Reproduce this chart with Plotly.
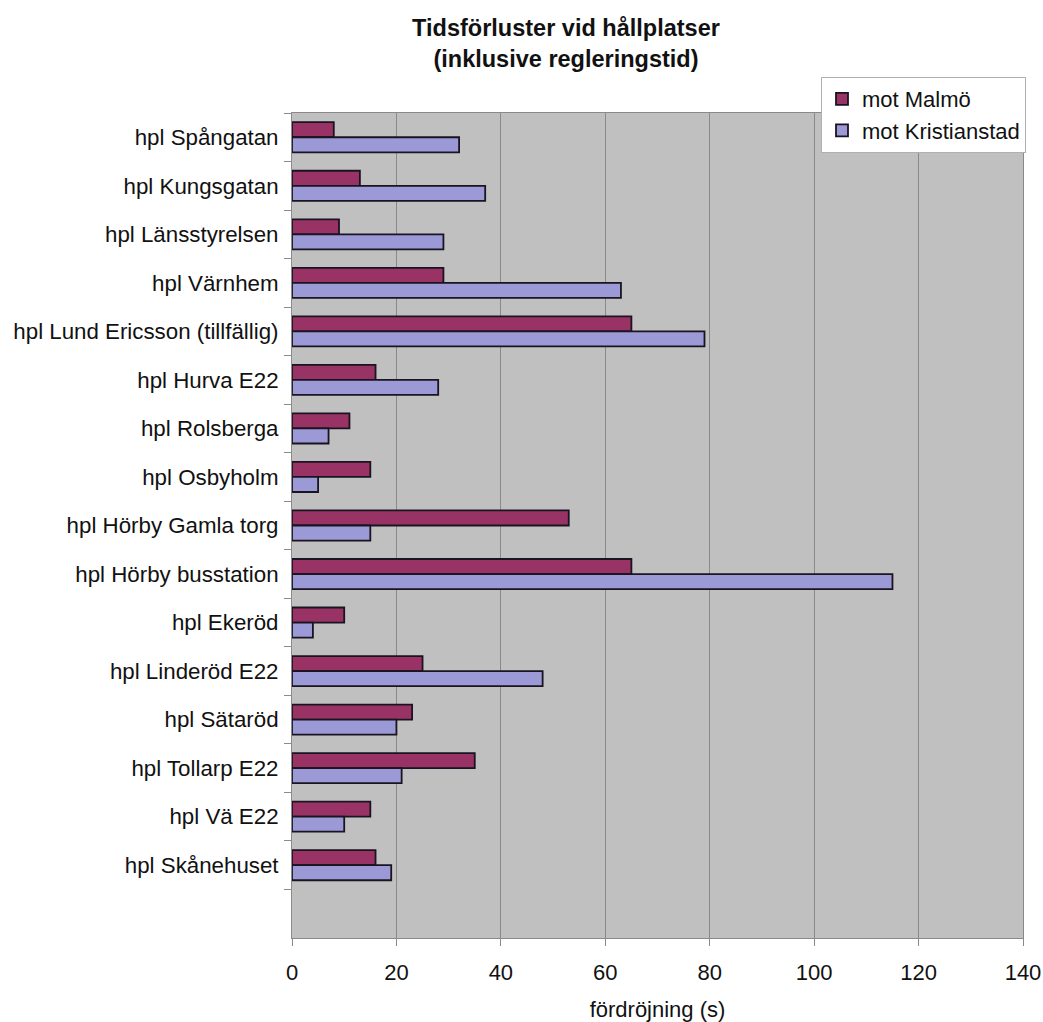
import plotly.graph_objects as go

# Stops along the line, top to bottom
stations = [
    "hpl Spångatan",
    "hpl Kungsgatan",
    "hpl Länsstyrelsen",
    "hpl Värnhem",
    "hpl Lund Ericsson (tillfällig)",
    "hpl Hurva E22",
    "hpl Rolsberga",
    "hpl Osbyholm",
    "hpl Hörby Gamla torg",
    "hpl Hörby busstation",
    "hpl Ekeröd",
    "hpl Linderöd E22",
    "hpl Sätaröd",
    "hpl Tollarp E22",
    "hpl Vä E22",
    "hpl Skånehuset",
]

# Delay per stop in seconds, by direction
mot_malmo = [8, 13, 9, 29, 65, 16, 11, 15, 53, 65, 10, 25, 23, 35, 15, 16]
mot_kristianstad = [32, 37, 29, 63, 79, 28, 7, 5, 15, 115, 4, 48, 20, 21, 10, 19]

x_ticks = [0, 20, 40, 60, 80, 100, 120, 140]

FONT = "Liberation Sans, Arial, sans-serif"
INK = "#111111"
AXIS_GREY = "#8a8a8a"

fig = go.Figure()
fig.add_trace(go.Bar(
    y=stations, x=mot_malmo, orientation="h", name="mot Malmö",
    marker=dict(color="#993366", line=dict(color="#1a1420", width=1.8)),
))
fig.add_trace(go.Bar(
    y=stations, x=mot_kristianstad, orientation="h", name="mot Kristianstad",
    marker=dict(color="#9b99d6", line=dict(color="#1a1420", width=1.8)),
))

# one empty slot below the last stop
categories = stations + [" "]

fig.update_layout(
    width=1043, height=1022,
    margin=dict(l=292, r=20, t=113, b=84),
    paper_bgcolor="white",
    plot_bgcolor="#c0c0c0",
    barmode="group",
    bargap=0.38,
    bargroupgap=0,
    font=dict(family=FONT, size=22, color=INK),
    title=dict(
        text="<b>Tidsförluster vid hållplatser<br>(inklusive regleringstid)</b>",
        x=566 / 1043, xanchor="center",
        y=1 - 36 / 1022, yanchor="top",
        font=dict(family=FONT, size=23.5, color=INK),
    ),
    legend=dict(
        x=(821 - 292) / 731, xanchor="left",
        y=1 + (113 - 77) / 825, yanchor="top",
        bgcolor="white", bordercolor="#b0b0b0", borderwidth=1,
        font=dict(family=FONT, size=22, color=INK),
        itemwidth=30,
        tracegroupgap=0,
    ),
    xaxis=dict(
        range=[0, 140], tickvals=x_ticks,
        automargin=False,
        showgrid=True, gridcolor=AXIS_GREY, gridwidth=1,
        showline=True, linecolor=AXIS_GREY, linewidth=1, mirror=True,
        ticks="outside", ticklen=7, tickcolor=AXIS_GREY,
        ticklabelstandoff=8,
        tickfont=dict(family=FONT, size=22, color=INK),
        zeroline=False,
        title=dict(text="fördröjning (s)", standoff=22,
                   font=dict(family=FONT, size=22, color=INK)),
    ),
    yaxis=dict(
        type="category", categoryorder="array", categoryarray=categories,
        range=[16.5, -0.5],
        automargin=False,
        tickson="boundaries",
        showgrid=False,
        showline=True, linecolor=AXIS_GREY, linewidth=1, mirror=True,
        ticks="outside", ticklen=7, tickcolor=AXIS_GREY,
        ticklabelstandoff=8,
        tickfont=dict(family=FONT, size=22.3, color=INK),
    ),
)

fig.write_html("out.html")
